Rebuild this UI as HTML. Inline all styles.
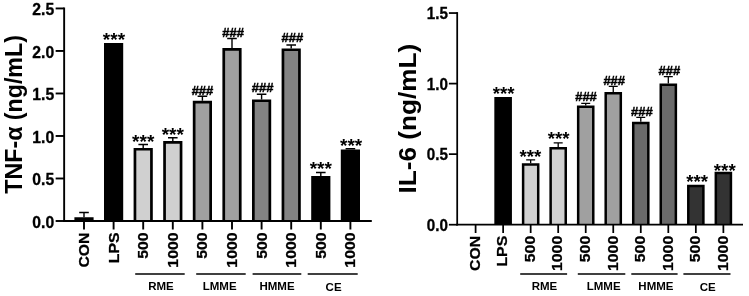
<!DOCTYPE html>
<html><head><meta charset="utf-8"><title>TNF-α and IL-6</title>
<style>
html,body{margin:0;padding:0;background:#fff;}
body{width:749px;height:296px;overflow:hidden;}
svg{display:block;font-family:"Liberation Sans", sans-serif;fill:#000;filter:blur(0.4px);}
</style></head><body>
<svg width="749" height="296" viewBox="0 0 749 296">
<rect x="0" y="0" width="749" height="296" fill="#fff"/>
<g>
<path d="M84.00 217.17V212.50M79.20 212.50H88.80" stroke="#000" stroke-width="1.4" fill="none"/>
<path d="M75.75 221.00V218.52H92.25V221.00" fill="#000" stroke="#000" stroke-width="2.7"/>
<path d="M105.35 221.00V44.40H121.85V221.00" fill="#000" stroke="#000" stroke-width="2.7"/>
<text x="113.95" y="46.05" font-size="19" text-anchor="middle" font-weight="bold">***</text>
<path d="M143.20 147.88V144.48M138.40 144.48H148.00" stroke="#000" stroke-width="1.4" fill="none"/>
<path d="M134.95 221.00V149.23H151.45V221.00" fill="#d0d0d0" stroke="#000" stroke-width="2.7"/>
<text x="143.20" y="147.88" font-size="19" text-anchor="middle" font-weight="bold">***</text>
<path d="M172.80 141.08V137.68M168.00 137.68H177.60" stroke="#000" stroke-width="1.4" fill="none"/>
<path d="M164.55 221.00V142.43H181.05V221.00" fill="#d0d0d0" stroke="#000" stroke-width="2.7"/>
<text x="172.80" y="141.08" font-size="19" text-anchor="middle" font-weight="bold">***</text>
<path d="M202.40 100.78V96.19M197.60 96.19H207.20" stroke="#000" stroke-width="1.4" fill="none"/>
<path d="M194.15 221.00V102.13H210.65V221.00" fill="#a0a0a0" stroke="#000" stroke-width="2.7"/>
<text x="202.50" y="95.49" font-size="13" text-anchor="middle" font-weight="bold" stroke="#000" stroke-width="0.45">###</text>
<path d="M232.00 48.07V38.46M227.20 38.46H236.80" stroke="#000" stroke-width="1.4" fill="none"/>
<path d="M223.75 221.00V49.42H240.25V221.00" fill="#a0a0a0" stroke="#000" stroke-width="2.7"/>
<text x="233.10" y="36.96" font-size="13" text-anchor="middle" font-weight="bold" stroke="#000" stroke-width="0.45">###</text>
<path d="M261.60 99.42V94.32M256.80 94.32H266.40" stroke="#000" stroke-width="1.4" fill="none"/>
<path d="M253.35 221.00V100.77H269.85V221.00" fill="#838383" stroke="#000" stroke-width="2.7"/>
<text x="262.70" y="92.22" font-size="13" text-anchor="middle" font-weight="bold" stroke="#000" stroke-width="0.45">###</text>
<path d="M291.20 48.41V45.01M286.40 45.01H296.00" stroke="#000" stroke-width="1.4" fill="none"/>
<path d="M282.95 221.00V49.76H299.45V221.00" fill="#838383" stroke="#000" stroke-width="2.7"/>
<text x="292.30" y="41.91" font-size="13" text-anchor="middle" font-weight="bold" stroke="#000" stroke-width="0.45">###</text>
<path d="M320.80 175.94V172.54M316.00 172.54H325.60" stroke="#000" stroke-width="1.4" fill="none"/>
<path d="M312.55 221.00V177.29H329.05V221.00" fill="#000" stroke="#000" stroke-width="2.7"/>
<text x="320.80" y="175.34" font-size="19" text-anchor="middle" font-weight="bold">***</text>
<path d="M350.40 149.58V148.73M345.60 148.73H355.20" stroke="#000" stroke-width="1.4" fill="none"/>
<path d="M342.15 221.00V150.93H358.65V221.00" fill="#000" stroke="#000" stroke-width="2.7"/>
<text x="351.10" y="151.53" font-size="19" text-anchor="middle" font-weight="bold">***</text>
<path d="M64.15 7.50V221.95" stroke="#000" stroke-width="1.9"/>
<path d="M63.20 221.00H371.80" stroke="#000" stroke-width="1.9"/>
<path d="M55.65 221.00H64.15" stroke="#000" stroke-width="1.9"/>
<text transform="translate(54.15 227.65) scale(1 1.0)" font-size="15.7" font-weight="bold" text-anchor="end" stroke="#000" stroke-width="0.3">0.0</text>
<path d="M55.65 178.49H64.15" stroke="#000" stroke-width="1.9"/>
<text transform="translate(54.15 185.14) scale(1 1.0)" font-size="15.7" font-weight="bold" text-anchor="end" stroke="#000" stroke-width="0.3">0.5</text>
<path d="M55.65 135.98H64.15" stroke="#000" stroke-width="1.9"/>
<text transform="translate(54.15 142.63) scale(1 1.0)" font-size="15.7" font-weight="bold" text-anchor="end" stroke="#000" stroke-width="0.3">1.0</text>
<path d="M55.65 93.47H64.15" stroke="#000" stroke-width="1.9"/>
<text transform="translate(54.15 100.12) scale(1 1.0)" font-size="15.7" font-weight="bold" text-anchor="end" stroke="#000" stroke-width="0.3">1.5</text>
<path d="M55.65 50.96H64.15" stroke="#000" stroke-width="1.9"/>
<text transform="translate(54.15 57.61) scale(1 1.0)" font-size="15.7" font-weight="bold" text-anchor="end" stroke="#000" stroke-width="0.3">2.0</text>
<path d="M55.65 8.45H64.15" stroke="#000" stroke-width="1.9"/>
<text transform="translate(54.15 15.10) scale(1 1.0)" font-size="15.7" font-weight="bold" text-anchor="end" stroke="#000" stroke-width="0.3">2.5</text>
<path d="M84.00 221.00V229.50" stroke="#000" stroke-width="1.9"/>
<text transform="translate(89.09 232.50) rotate(-90) scale(1 0.93)" font-size="15.8" font-weight="bold" text-anchor="end" stroke="#000" stroke-width="0.3">CON</text>
<path d="M113.60 221.00V229.50" stroke="#000" stroke-width="1.9"/>
<text transform="translate(118.69 232.50) rotate(-90) scale(1 0.93)" font-size="15.8" font-weight="bold" text-anchor="end" stroke="#000" stroke-width="0.3">LPS</text>
<path d="M143.20 221.00V229.50" stroke="#000" stroke-width="1.9"/>
<text transform="translate(148.29 232.50) rotate(-90) scale(1 0.93)" font-size="15.8" font-weight="bold" text-anchor="end" stroke="#000" stroke-width="0.3">500</text>
<path d="M172.80 221.00V229.50" stroke="#000" stroke-width="1.9"/>
<text transform="translate(177.89 232.50) rotate(-90) scale(1 0.93)" font-size="15.8" font-weight="bold" text-anchor="end" stroke="#000" stroke-width="0.3">1000</text>
<path d="M202.40 221.00V229.50" stroke="#000" stroke-width="1.9"/>
<text transform="translate(207.49 232.50) rotate(-90) scale(1 0.93)" font-size="15.8" font-weight="bold" text-anchor="end" stroke="#000" stroke-width="0.3">500</text>
<path d="M232.00 221.00V229.50" stroke="#000" stroke-width="1.9"/>
<text transform="translate(237.09 232.50) rotate(-90) scale(1 0.93)" font-size="15.8" font-weight="bold" text-anchor="end" stroke="#000" stroke-width="0.3">1000</text>
<path d="M261.60 221.00V229.50" stroke="#000" stroke-width="1.9"/>
<text transform="translate(266.69 232.50) rotate(-90) scale(1 0.93)" font-size="15.8" font-weight="bold" text-anchor="end" stroke="#000" stroke-width="0.3">500</text>
<path d="M291.20 221.00V229.50" stroke="#000" stroke-width="1.9"/>
<text transform="translate(296.29 232.50) rotate(-90) scale(1 0.93)" font-size="15.8" font-weight="bold" text-anchor="end" stroke="#000" stroke-width="0.3">1000</text>
<path d="M320.80 221.00V229.50" stroke="#000" stroke-width="1.9"/>
<text transform="translate(325.89 232.50) rotate(-90) scale(1 0.93)" font-size="15.8" font-weight="bold" text-anchor="end" stroke="#000" stroke-width="0.3">500</text>
<path d="M350.40 221.00V229.50" stroke="#000" stroke-width="1.9"/>
<text transform="translate(355.49 232.50) rotate(-90) scale(1 0.93)" font-size="15.8" font-weight="bold" text-anchor="end" stroke="#000" stroke-width="0.3">1000</text>
<path d="M135.20 273.90H184.70" stroke="#000" stroke-width="1.5"/>
<text x="161.00" y="290.00" font-size="11.5" font-weight="bold" text-anchor="middle">RME</text>
<path d="M196.20 273.90H245.70" stroke="#000" stroke-width="1.5"/>
<text x="219.70" y="290.00" font-size="11.5" font-weight="bold" text-anchor="middle">LMME</text>
<path d="M252.60 273.90H301.30" stroke="#000" stroke-width="1.5"/>
<text x="277.00" y="290.00" font-size="11.5" font-weight="bold" text-anchor="middle">HMME</text>
<path d="M307.70 273.90H357.70" stroke="#000" stroke-width="1.5"/>
<text x="333.60" y="290.80" font-size="11.5" font-weight="bold" text-anchor="middle">CE</text>
<text transform="translate(21.80 114.40) rotate(-90)" font-size="23.5" font-weight="bold" text-anchor="middle" textLength="158.6" lengthAdjust="spacingAndGlyphs">TNF-α (ng/mL)</text>
</g>
<g>
<path d="M495.58 224.70V98.25H510.68V224.70" fill="#000" stroke="#000" stroke-width="2.5"/>
<text x="503.63" y="100.30" font-size="18.7" text-anchor="middle" font-weight="bold">***</text>
<path d="M530.66 163.32V159.79M526.16 159.79H535.16" stroke="#000" stroke-width="1.3" fill="none"/>
<path d="M523.11 224.70V164.57H538.21V224.70" fill="#d0d0d0" stroke="#000" stroke-width="2.5"/>
<text x="530.46" y="163.09" font-size="18.7" text-anchor="middle" font-weight="bold">***</text>
<path d="M558.19 147.09V142.86M553.69 142.86H562.69" stroke="#000" stroke-width="1.3" fill="none"/>
<path d="M550.64 224.70V148.34H565.74V224.70" fill="#d0d0d0" stroke="#000" stroke-width="2.5"/>
<text x="558.69" y="145.16" font-size="18.7" text-anchor="middle" font-weight="bold">***</text>
<path d="M585.72 105.47V103.35M581.22 103.35H590.22" stroke="#000" stroke-width="1.3" fill="none"/>
<path d="M578.17 224.70V106.72H593.27V224.70" fill="#a0a0a0" stroke="#000" stroke-width="2.5"/>
<text x="586.02" y="100.75" font-size="13" text-anchor="middle" font-weight="bold" stroke="#000" stroke-width="0.45">###</text>
<path d="M613.25 92.07V86.42M608.75 86.42H617.75" stroke="#000" stroke-width="1.3" fill="none"/>
<path d="M605.70 224.70V93.32H620.80V224.70" fill="#a0a0a0" stroke="#000" stroke-width="2.5"/>
<text x="614.25" y="84.82" font-size="13" text-anchor="middle" font-weight="bold" stroke="#000" stroke-width="0.45">###</text>
<path d="M640.78 121.70V117.46M636.28 117.46H645.28" stroke="#000" stroke-width="1.3" fill="none"/>
<path d="M633.23 224.70V122.95H648.33V224.70" fill="#6a6a6a" stroke="#000" stroke-width="2.5"/>
<text x="641.78" y="115.86" font-size="13" text-anchor="middle" font-weight="bold" stroke="#000" stroke-width="0.45">###</text>
<path d="M668.31 83.60V76.54M663.81 76.54H672.81" stroke="#000" stroke-width="1.3" fill="none"/>
<path d="M660.76 224.70V84.85H675.86V224.70" fill="#6a6a6a" stroke="#000" stroke-width="2.5"/>
<text x="669.31" y="74.94" font-size="13" text-anchor="middle" font-weight="bold" stroke="#000" stroke-width="0.45">###</text>
<path d="M688.29 224.70V185.88H703.39V224.70" fill="#333" stroke="#000" stroke-width="2.5"/>
<text x="697.14" y="188.33" font-size="18.7" text-anchor="middle" font-weight="bold">***</text>
<path d="M715.82 224.70V173.04H730.92V224.70" fill="#333" stroke="#000" stroke-width="2.5"/>
<text x="724.77" y="176.89" font-size="18.7" text-anchor="middle" font-weight="bold">***</text>
<path d="M457.20 12.12V225.57" stroke="#000" stroke-width="1.75"/>
<path d="M456.32 224.70H743.00" stroke="#000" stroke-width="1.75"/>
<path d="M448.90 224.70H457.20" stroke="#000" stroke-width="1.75"/>
<text transform="translate(447.90 230.69) scale(1 1.04)" font-size="15.2" font-weight="bold" text-anchor="end" stroke="#000" stroke-width="0.3">0.0</text>
<path d="M448.90 154.15H457.20" stroke="#000" stroke-width="1.75"/>
<text transform="translate(447.90 160.14) scale(1 1.04)" font-size="15.2" font-weight="bold" text-anchor="end" stroke="#000" stroke-width="0.3">0.5</text>
<path d="M448.90 83.60H457.20" stroke="#000" stroke-width="1.75"/>
<text transform="translate(447.90 89.59) scale(1 1.04)" font-size="15.2" font-weight="bold" text-anchor="end" stroke="#000" stroke-width="0.3">1.0</text>
<path d="M448.90 13.05H457.20" stroke="#000" stroke-width="1.75"/>
<text transform="translate(447.90 19.04) scale(1 1.04)" font-size="15.2" font-weight="bold" text-anchor="end" stroke="#000" stroke-width="0.3">1.5</text>
<path d="M475.60 224.70V233.00" stroke="#000" stroke-width="1.75"/>
<text transform="translate(479.89 235.80) rotate(-90) scale(1 0.93)" font-size="15.8" font-weight="bold" text-anchor="end" stroke="#000" stroke-width="0.3">CON</text>
<path d="M503.13 224.70V233.00" stroke="#000" stroke-width="1.75"/>
<text transform="translate(507.42 235.80) rotate(-90) scale(1 0.93)" font-size="15.8" font-weight="bold" text-anchor="end" stroke="#000" stroke-width="0.3">LPS</text>
<path d="M530.66 224.70V233.00" stroke="#000" stroke-width="1.75"/>
<text transform="translate(534.95 235.80) rotate(-90) scale(1 0.93)" font-size="15.8" font-weight="bold" text-anchor="end" stroke="#000" stroke-width="0.3">500</text>
<path d="M558.19 224.70V233.00" stroke="#000" stroke-width="1.75"/>
<text transform="translate(562.48 235.80) rotate(-90) scale(1 0.93)" font-size="15.8" font-weight="bold" text-anchor="end" stroke="#000" stroke-width="0.3">1000</text>
<path d="M585.72 224.70V233.00" stroke="#000" stroke-width="1.75"/>
<text transform="translate(590.01 235.80) rotate(-90) scale(1 0.93)" font-size="15.8" font-weight="bold" text-anchor="end" stroke="#000" stroke-width="0.3">500</text>
<path d="M613.25 224.70V233.00" stroke="#000" stroke-width="1.75"/>
<text transform="translate(617.54 235.80) rotate(-90) scale(1 0.93)" font-size="15.8" font-weight="bold" text-anchor="end" stroke="#000" stroke-width="0.3">1000</text>
<path d="M640.78 224.70V233.00" stroke="#000" stroke-width="1.75"/>
<text transform="translate(645.07 235.80) rotate(-90) scale(1 0.93)" font-size="15.8" font-weight="bold" text-anchor="end" stroke="#000" stroke-width="0.3">500</text>
<path d="M668.31 224.70V233.00" stroke="#000" stroke-width="1.75"/>
<text transform="translate(672.60 235.80) rotate(-90) scale(1 0.93)" font-size="15.8" font-weight="bold" text-anchor="end" stroke="#000" stroke-width="0.3">1000</text>
<path d="M695.84 224.70V233.00" stroke="#000" stroke-width="1.75"/>
<text transform="translate(700.13 235.80) rotate(-90) scale(1 0.93)" font-size="15.8" font-weight="bold" text-anchor="end" stroke="#000" stroke-width="0.3">500</text>
<path d="M723.37 224.70V233.00" stroke="#000" stroke-width="1.75"/>
<text transform="translate(727.66 235.80) rotate(-90) scale(1 0.93)" font-size="15.8" font-weight="bold" text-anchor="end" stroke="#000" stroke-width="0.3">1000</text>
<path d="M520.20 273.90H567.10" stroke="#000" stroke-width="1.5"/>
<text x="544.50" y="290.00" font-size="11.5" font-weight="bold" text-anchor="middle">RME</text>
<path d="M577.80 273.90H625.30" stroke="#000" stroke-width="1.5"/>
<text x="603.70" y="290.00" font-size="11.5" font-weight="bold" text-anchor="middle">LMME</text>
<path d="M631.30 273.90H677.60" stroke="#000" stroke-width="1.5"/>
<text x="655.90" y="290.00" font-size="11.5" font-weight="bold" text-anchor="middle">HMME</text>
<path d="M683.40 273.90H730.50" stroke="#000" stroke-width="1.5"/>
<text x="707.80" y="291.20" font-size="11.5" font-weight="bold" text-anchor="middle">CE</text>
<text transform="translate(416.30 118.70) rotate(-90)" font-size="23.5" font-weight="bold" text-anchor="middle" textLength="149.6" lengthAdjust="spacingAndGlyphs">IL-6 (ng/mL)</text>
</g>
</svg>
</body></html>
